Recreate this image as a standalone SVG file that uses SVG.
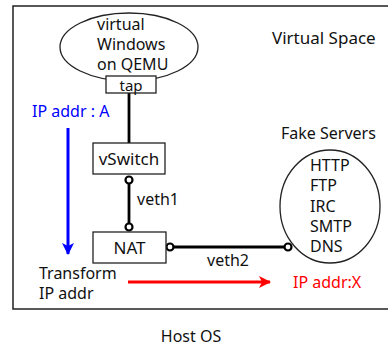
<svg xmlns="http://www.w3.org/2000/svg" width="388" height="347" viewBox="0 0 388 347">
  <defs>
    <style>
      text { font-family: "Noto Sans", "Liberation Sans", sans-serif; font-size: 16px; fill: #111; }
      .big { font-size: 17px; }
      .small { font-size: 15px; }
      .box { fill: #fff; stroke: #222; stroke-width: 1.3; }
      .wire { stroke: #000; stroke-width: 2.8; fill: none; }
      .port { fill: #fff; stroke: #000; stroke-width: 2.2; }
      .blue { fill: #0000ff; }
      .red { fill: #ff0000; }
    </style>
    <marker id="headBlue" viewBox="0 0 12 12" refX="11" refY="6" markerWidth="12" markerHeight="12" markerUnits="userSpaceOnUse" orient="auto">
      <path d="M0,0 L12,6 L0,12 L3,6 Z" fill="#0000ff"/>
    </marker>
    <marker id="headRed" viewBox="0 0 12 12" refX="11" refY="6" markerWidth="12" markerHeight="12" markerUnits="userSpaceOnUse" orient="auto">
      <path d="M0,0 L12,6 L0,12 L3,6 Z" fill="#ff0000"/>
    </marker>
  </defs>

  <rect width="388" height="347" fill="#fff"/>

  <!-- Virtual space boundary (runs off the right edge) -->
  <g id="virtual-space">
    <rect x="13" y="6" width="400" height="303" fill="none" stroke="#222" stroke-width="1.5"/>
    <text x="272" y="44" class="big">Virtual Space</text>
  </g>

  <!-- Connectors -->
  <g id="connectors">
    <line class="wire" x1="129" y1="93" x2="129" y2="143"/>
    <line class="wire" x1="129" y1="180" x2="129" y2="227"/>
    <line class="wire" x1="170" y1="247" x2="288" y2="247"/>
    <circle class="port" cx="129" cy="180" r="3.5"/>
    <circle class="port" cx="129" cy="227" r="3.5"/>
    <circle class="port" cx="170" cy="247" r="3.5"/>
    <circle class="port" cx="288" cy="247" r="3.5"/>
    <text x="137" y="205">veth1</text>
    <text x="207" y="266">veth2</text>
  </g>

  <g id="vm">
    <ellipse cx="129" cy="47" rx="69" ry="34" fill="#fff" stroke="#222" stroke-width="1.3"/>
    <text x="97" y="30">virtual</text>
    <text x="97" y="50">Windows</text>
    <text x="97" y="70">on QEMU</text>
  </g>

  <g id="tap">
    <rect class="box" x="106" y="76" width="50" height="17"/>
    <text x="131" y="91" text-anchor="middle" class="small">tap</text>
  </g>

  <g id="vswitch">
    <rect class="box" x="93" y="143" width="72" height="31"/>
    <text x="129" y="165" text-anchor="middle" class="big">vSwitch</text>
  </g>

  <g id="nat">
    <rect class="box" x="93" y="232" width="73" height="31"/>
    <text x="129.5" y="254" text-anchor="middle" class="big">NAT</text>
  </g>

  <g id="fake-servers">
    <text x="281" y="139">Fake Servers</text>
    <ellipse cx="330" cy="206.5" rx="50" ry="56.5" fill="#fff" stroke="#222" stroke-width="1.3"/>
    <text x="310" y="171">HTTP</text>
    <text x="310" y="191">FTP</text>
    <text x="310" y="212">IRC</text>
    <text x="310" y="232">SMTP</text>
    <text x="310" y="252">DNS</text>
  </g>

  <!-- Address flow -->
  <g id="addr-flow">
    <text x="32" y="117" class="blue">IP addr : A</text>
    <line x1="68" y1="128" x2="68" y2="254" stroke="#0000ff" stroke-width="3" marker-end="url(#headBlue)"/>
    <text x="39" y="279">Transform</text>
    <text x="39" y="299">IP addr</text>
    <line x1="128" y1="282" x2="270" y2="282" stroke="#ff0000" stroke-width="3" marker-end="url(#headRed)"/>
    <text x="293" y="288" class="red">IP addr:X</text>
  </g>

  <text id="host-os" x="191" y="342" text-anchor="middle">Host OS</text>
</svg>
